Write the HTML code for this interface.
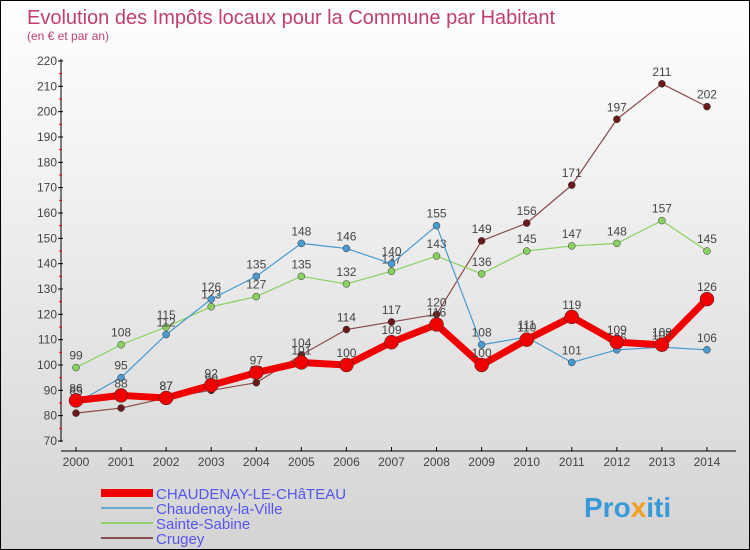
<!DOCTYPE html>
<html><head><meta charset="utf-8"><style>
body{margin:0}
#c{width:748px;height:548px;border:1px solid #000;background:linear-gradient(#ffffff,#d4d4d4);position:relative;font-family:"Liberation Sans",sans-serif;overflow:hidden}
</style></head><body>
<div id="c">
<svg id="s" width="748" height="548">
<text x="26" y="23" font-size="20" fill="#c0406a">Evolution des Impôts locaux pour la Commune par Habitant</text>
<text x="26" y="39" font-size="12" fill="#c0406a">(en € et par an)</text>
<g id="ax"></g><g id="ser"></g><g id="leg"></g>
<text x="583" y="516" font-size="28" font-weight="bold" fill="#3a9ad8">Pro<tspan fill="#f0a020">x</tspan>iti</text>
</svg></div>
<script>
const years=[2000,2001,2002,2003,2004,2005,2006,2007,2008,2009,2010,2011,2012,2013,2014];
const yTicks=[70,80,90,100,110,120,130,140,150,160,170,180,190,200,210,220];
const chateau=[86,88,87,92,97,101,100,109,116,100,110,119,109,108,126];
const ville=[85,95,112,126,135,148,146,140,155,108,111,101,106,107,106];
const sabine=[99,108,115,123,127,135,132,137,143,136,145,147,148,157,145];
const crugey=[81,83,87,90,93,104,114,117,120,149,156,171,197,211,202];
const NS='http://www.w3.org/2000/svg';
const X=i=>75+i*45.07, Y=v=>440-(v-70)*380/150;
function mk(t,a,p){const e=document.createElementNS(NS,t);for(const k in a)e.setAttribute(k,a[k]);p.appendChild(e);return e;}
const ax=document.getElementById('ax');
let l=mk('line',{x1:60,y1:58,x2:60,y2:441,stroke:'#000','stroke-width':1},ax);

l=mk('line',{x1:60,y1:450,x2:735,y2:450,stroke:'#000','stroke-width':1},ax);

yTicks.forEach((v,i)=>{mk('line',{x1:57,x2:62,y1:Y(v),y2:Y(v),stroke:'#000'},ax);
 if(i<yTicks.length-1)mk('line',{x1:58,x2:61,y1:Y(v+5),y2:Y(v+5),stroke:'#f00'},ax);
 const t=mk('text',{x:56,y:Y(v)+4,'font-size':12,'text-anchor':'end',fill:'#444'},ax);t.textContent=v;
 });
years.forEach((y,i)=>{mk('line',{x1:X(i),x2:X(i),y1:446,y2:450,stroke:'#000'},ax);
 const t=mk('text',{x:X(i),y:465,'font-size':12,'text-anchor':'middle',fill:'#444'},ax);t.textContent=y;
 });
const ser=document.getElementById('ser');
const S=[[crugey,'#6a1a1a','#8a4a4a',1.2,3.5,'crugey'],[sabine,'#8ad060','#8ad060',1.2,3.5,'sainte-sabine'],[ville,'#4a9ad0','#4a9ad0',1.2,3.5,'chaudenay-la-ville'],[chateau,'#f00000','#f00000',7,7,'chaudenay-le-chateau']];
S.forEach(([d,pc,lc,w,r,n])=>{const g=mk('g',{},ser);
 const p=mk('polyline',{points:d.map((v,i)=>X(i)+','+Y(v)).join(' '),fill:'none',stroke:lc,'stroke-width':w,'stroke-linejoin':'round'},g);
 
 d.forEach((v,i)=>{const c=mk('circle',{cx:X(i),cy:Y(v),r:r,fill:pc,stroke:'#333','stroke-width':0.5},g);
  
  const t=mk('text',{x:X(i),y:Y(v)-8,'font-size':12,'text-anchor':'middle',fill:'#444'},g);t.textContent=v;
  });});
const leg=document.getElementById('leg');
[['CHAUDENAY-LE-CHâTEAU','#f00000',8],['Chaudenay-la-Ville','#6aaad0',2],['Sainte-Sabine','#90d070',2],['Crugey','#8a5050',2]].forEach(([n,c,w],i)=>{
 const y=492+i*15;const g=mk('g',{},leg);
 mk('line',{x1:100,x2:152,y1:y,y2:y,stroke:c,'stroke-width':w},g);
 const t=mk('text',{x:155,y:y+6,'font-size':15,fill:'#5555ee'},g);t.textContent=n;});
</script>
</body></html>
